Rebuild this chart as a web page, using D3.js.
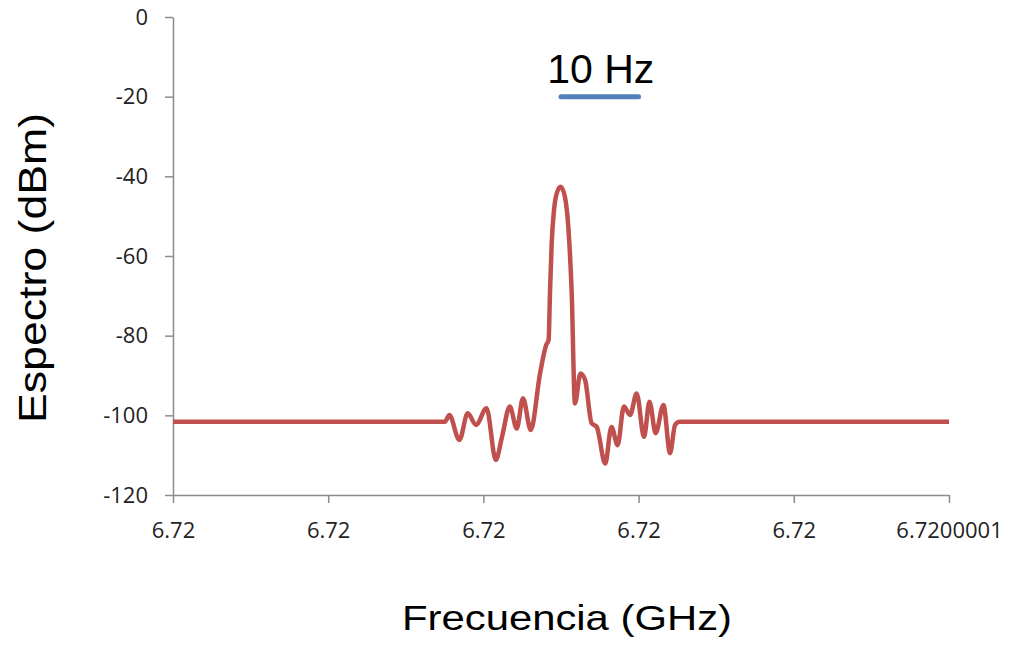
<!DOCTYPE html>
<html>
<head>
<meta charset="utf-8">
<script src="https://cdn.jsdelivr.net/npm/d3@7"></script>
<style>
  body { margin: 0; background: #fff; }
  svg { display: block; }
</style>
</head>
<body>
<div id="chart"></div>
<script>
const width = 1011,
  height = 645,
  margin = { top: 17, right: 62, bottom: 150, left: 173 }

// offset from 6.72 GHz, in Hz
const freqHz = [0, 35.05, 35.6, 36.9, 37.98, 39.05, 40.4, 41.6, 42.4, 43.4, 44.3, 45.1, 46.1, 47.3, 48.1, 48.4, 48.58, 48.8, 49.1, 49.45, 49.96, 50.5, 50.94, 51.38, 51.8, 52.5, 53.1, 53.95, 54.6, 55.7, 56.5, 57.3, 58.1, 58.9, 59.75, 60.7, 61.4, 62.2, 63.2, 64.05, 64.7, 65.3, 100]
const spectrumDbm = [-101.6, -101.6, -99.9, -106.2, -99.5, -102.4, -98.2, -111.2, -105.4, -97.8, -103.3, -95.7, -103.7, -89.5, -82.3, -81.1, -69.4, -56.8, -48.5, -44.3, -42.6, -45.1, -52.6, -69.4, -97.0, -89.5, -91.1, -102.0, -102.9, -112.1, -102.9, -107.5, -97.8, -99.9, -94.5, -105.4, -96.6, -104.5, -97.4, -109.5, -102.4, -101.6, -101.6]

const xTicks = [0, 20, 40, 60, 80, 100]
const xTickLabels = ["6.72", "6.72", "6.72", "6.72", "6.72", "6.7200001"]
const yTicks = [0, -20, -40, -60, -80, -100, -120]

// 10 Hz marker
const markerHz = [50, 60]
const markerDbm = -20

const tickFont = "'Open Sans', Lato, sans-serif"
const titleFont = "'Liberation Sans', Arial, sans-serif"

const svg = d3.select("#chart")
  .append("svg")
  .attr("width", width)
  .attr("height", height)

const x = d3.scaleLinear()
  .domain([0, 100])
  .range([margin.left, width - margin.right])

const y = d3.scaleLinear()
  .domain([-120, 0])
  .range([height - margin.bottom, margin.top])

// y axis
const yAxis = svg.append("g")
  .attr("transform", `translate(${margin.left},0)`)
  .call(d3.axisLeft(y).tickValues(yTicks).tickSize(8).tickSizeOuter(0).tickPadding(17)
    .tickFormat(d => String(d)))
yAxis.select(".domain").attr("stroke", "#8c8c8c").attr("stroke-width", 1.5)
yAxis.selectAll(".tick line").attr("stroke", "#8c8c8c").attr("stroke-width", 1.5)
yAxis.selectAll("text")
  .attr("font-family", tickFont)
  .attr("font-size", 22)
  .attr("fill", "#222")

// x axis
const xAxis = svg.append("g")
  .attr("transform", `translate(0,${y(-120)})`)
  .call(d3.axisBottom(x).tickValues(xTicks).tickSize(8).tickSizeOuter(0).tickPadding(19)
    .tickFormat((d, i) => xTickLabels[i]))
xAxis.select(".domain").attr("stroke", "#8c8c8c").attr("stroke-width", 1.5)
xAxis.selectAll(".tick line").attr("stroke", "#8c8c8c").attr("stroke-width", 1.5)
xAxis.selectAll("text")
  .attr("font-family", tickFont)
  .attr("font-size", 22)
  .attr("fill", "#222")

// spectrum line
const line = d3.line()
  .x((d, i) => x(freqHz[i]))
  .y(d => y(d))
  .curve(d3.curveMonotoneX)

svg.append("path")
  .datum(spectrumDbm)
  .attr("d", line)
  .attr("fill", "none")
  .attr("stroke", "#C0504D")
  .attr("stroke-width", 4.5)
  .attr("stroke-linejoin", "round")

// 10 Hz bar
svg.append("line")
  .attr("x1", x(markerHz[0]))
  .attr("x2", x(markerHz[1]))
  .attr("y1", y(markerDbm))
  .attr("y2", y(markerDbm))
  .attr("stroke", "#4F81BD")
  .attr("stroke-width", 5)
  .attr("stroke-linecap", "round")

svg.append("text")
  .attr("x", x((markerHz[0] + markerHz[1]) / 2) + 1)
  .attr("y", 83)
  .attr("text-anchor", "middle")
  .attr("font-family", titleFont)
  .attr("font-size", 41)
  .attr("fill", "#000")
  .text("10 Hz")

// axis titles
svg.append("text")
  .attr("x", 567)
  .attr("y", 630)
  .attr("text-anchor", "middle")
  .attr("font-family", titleFont)
  .attr("font-size", 35)
  .attr("textLength", 330)
  .attr("lengthAdjust", "spacingAndGlyphs")
  .attr("fill", "#000")
  .text("Frecuencia (GHz)")

svg.append("text")
  .attr("transform", "translate(46,268) rotate(-90)")
  .attr("text-anchor", "middle")
  .attr("font-family", titleFont)
  .attr("font-size", 39)
  .attr("textLength", 310)
  .attr("lengthAdjust", "spacingAndGlyphs")
  .attr("fill", "#000")
  .text("Espectro (dBm)")
</script>
</body>
</html>
